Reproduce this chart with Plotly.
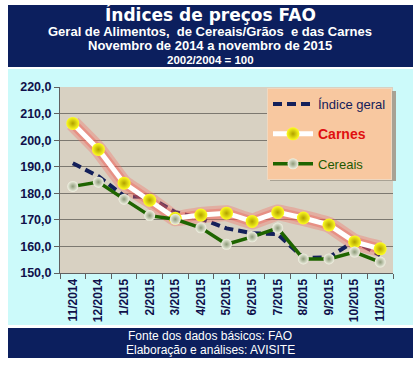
import plotly.graph_objects as go

categories = ["11/2014", "12/2014", "1/2015", "2/2015", "3/2015", "4/2015", "5/2015",
              "6/2015", "7/2015", "8/2015", "9/2015", "10/2015", "11/2015"]
indice_geral = [191.3, 186.4, 179.0, 178.5, 172.9, 170.5, 166.8, 165.0, 164.6, 155.7, 155.9, 162.0, 156.7]
carnes = [206.3, 196.5, 183.8, 177.4, 170.6, 171.8, 172.5, 169.4, 172.8, 170.7, 168.1, 161.7, 159.1]
cereais = [182.6, 184.2, 177.8, 171.6, 170.2, 167.0, 160.8, 163.6, 166.9, 155.3, 155.3, 157.9, 154.1]
y_ticks = [150, 160, 170, 180, 190, 200, 210, 220]

W, H = 420, 365
L, R, T, B = 60, 393, 87, 273  # plot area in px


def px(x):
    return (x - L) / (R - L)


def py(y):
    return (B - y) / (B - T)


fig = go.Figure()

fig.add_trace(go.Scatter(
    x=categories, y=indice_geral, name="<span style='color:#14205a'>Índice geral</span>",
    mode="lines", line=dict(color="#14205a", width=4, dash="9px,5px"),
    legendgroup="a",
))
fig.add_trace(go.Scatter(
    x=categories, y=carnes, mode="lines", showlegend=False, hoverinfo="skip",
    line=dict(color="rgba(245,110,100,0.35)", width=16, shape="spline", smoothing=0.3),
))
fig.add_trace(go.Scatter(
    x=categories, y=carnes, mode="lines", showlegend=False, hoverinfo="skip",
    line=dict(color="rgba(240,90,80,0.35)", width=10),
))
fig.add_trace(go.Scatter(
    x=categories, y=carnes, name="<b><span style='color:#e01010;font-size:14px'>Carnes</span></b>",
    mode="lines+markers", line=dict(color="white", width=5),
    marker=dict(size=13, color="#ffff20", line=dict(width=0),
                gradient=dict(type="radial", color="#b0a000")),
    legendgroup="b",
))
fig.add_trace(go.Scatter(
    x=categories, y=cereais, name="<span style='color:#1e5a00'>Cereais</span>",
    mode="lines+markers", line=dict(color="#1e6400", width=3.5),
    marker=dict(size=11, color="#f2f2e4", line=dict(width=0),
                gradient=dict(type="radial", color="#8c9a78")),
    legendgroup="c",
))

shapes = [
    # title band
    dict(type="rect", xref="paper", yref="paper", x0=px(8), x1=px(413), y0=py(67), y1=py(5),
         fillcolor="#0c1f5e", line=dict(width=0), layer="below"),
    # cyan panel
    dict(type="rect", xref="paper", yref="paper", x0=px(8), x1=px(413), y0=py(325), y1=py(69),
         fillcolor="#ccfafa", line=dict(width=0), layer="below"),
    # footer band
    dict(type="rect", xref="paper", yref="paper", x0=px(8), x1=px(413), y0=py(358), y1=py(328),
         fillcolor="#0c1f5e", line=dict(width=0), layer="below"),
    # plot area background
    dict(type="rect", xref="paper", yref="paper", x0=0, x1=1, y0=0, y1=1,
         fillcolor="#d8d1c2", line=dict(width=0), layer="below"),
    # legend shadow
    dict(type="rect", xref="paper", yref="paper", x0=px(270), x1=px(396), y0=py(181), y1=py(91),
         fillcolor="#a8a294", line=dict(width=0), layer="above"),
]

annotations = [
    dict(text="<b>Índices de preços FAO</b>", x=px(210), y=py(15), xref="paper", yref="paper",
         showarrow=False, font=dict(family="DejaVu Sans", size=17, color="white"), xanchor="center", yanchor="middle"),
    dict(text="<b>Geral de Alimentos,  de Cereais/Grãos  e das Carnes</b>", x=px(210), y=py(31),
         xref="paper", yref="paper", showarrow=False,
         font=dict(family="Liberation Sans", size=13, color="white"), xanchor="center", yanchor="middle"),
    dict(text="<b>Novembro de 2014 a novembro de 2015</b>", x=px(210), y=py(46),
         xref="paper", yref="paper", showarrow=False,
         font=dict(family="Liberation Sans", size=13, color="white"), xanchor="center", yanchor="middle"),
    dict(text="<b>2002/2004 = 100</b>", x=px(210), y=py(60),
         xref="paper", yref="paper", showarrow=False,
         font=dict(family="Liberation Sans", size=11.5, color="white"), xanchor="center", yanchor="middle"),
    dict(text="Fonte dos dados básicos: FAO", x=px(210), y=py(336),
         xref="paper", yref="paper", showarrow=False,
         font=dict(family="Liberation Sans", size=12, color="white"), xanchor="center", yanchor="middle"),
    dict(text="Elaboração e análises: AVISITE", x=px(210), y=py(350),
         xref="paper", yref="paper", showarrow=False,
         font=dict(family="Liberation Sans", size=12, color="white"), xanchor="center", yanchor="middle"),
]

fig.update_layout(
    width=W, height=H,
    margin=dict(l=L, r=W - R, t=T, b=H - B, pad=0),
    paper_bgcolor="white",
    plot_bgcolor="rgba(0,0,0,0)",
    separators=",.",
    shapes=shapes,
    annotations=annotations,
    showlegend=True,
    legend=dict(
        x=px(267), y=py(88), xanchor="left", yanchor="top",
        bgcolor="#f8c8a0", bordercolor="#f0d8c0", borderwidth=1,
        font=dict(family="Liberation Sans", size=13, color="#14205a"),
        itemwidth=40, tracegroupgap=10,
    ),
    xaxis=dict(
        type="category", tickson="boundaries", ticks="outside", ticklen=5, tickcolor="#606060",
        tickangle=-90, showgrid=False, showline=True, linecolor="#606060", linewidth=1,
        tickfont=dict(family="Liberation Sans", size=12, color="#10104a", weight="bold"),
        range=[-0.5, len(categories) - 0.5], fixedrange=True,
    ),
    yaxis=dict(
        range=[150, 220], tickvals=y_ticks, tickformat=".1f", ticks="outside", ticklen=5,
        tickcolor="#606060", showgrid=True, gridcolor="#7c7870", gridwidth=1,
        showline=True, linecolor="#606060", linewidth=1, zeroline=False,
        tickfont=dict(family="Liberation Sans", size=12.5, color="#10104a", weight="bold"),
        fixedrange=True,
    ),
)

fig.write_html("out.html", config={"displayModeBar": False},
               post_script="document.body.style.margin='0';")
